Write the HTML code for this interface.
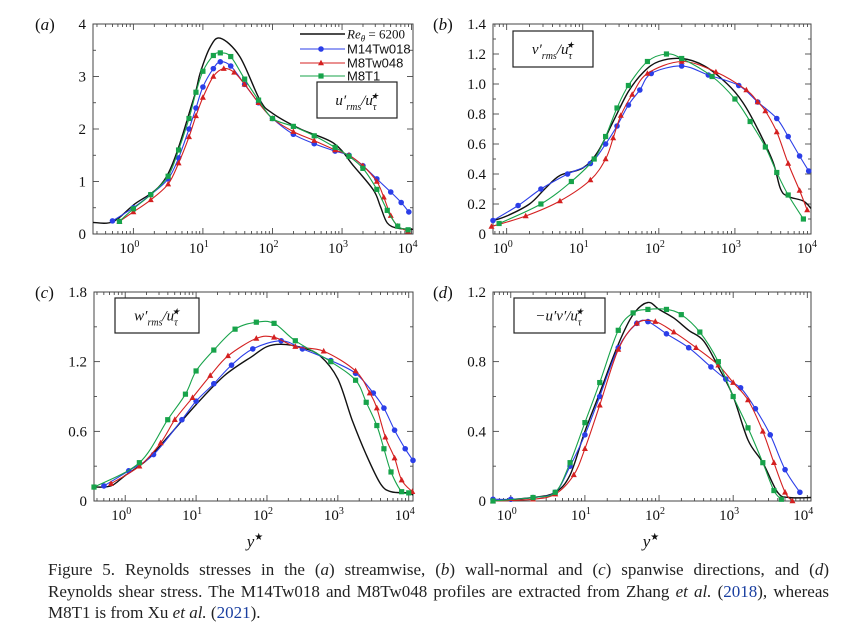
<!DOCTYPE html>
<html><head><meta charset="utf-8"><style>
body{margin:0;background:#fff;width:858px;height:629px;overflow:hidden;font-family:"Liberation Serif",serif}
#cap{position:absolute;left:48px;top:559px;width:781px;font-size:17px;line-height:21.5px;color:#222}
#cap div{text-align:justify;text-align-last:justify;white-space:nowrap}
#cap div.last{text-align-last:left}
</style></head><body>
<svg id="fig" width="858" height="560" style="position:absolute;left:0;top:0" font-family="Liberation Serif, serif"></svg>
<div id="cap"><div>Figure 5. Reynolds stresses in the (<i>a</i>) streamwise, (<i>b</i>) wall-normal and (<i>c</i>) spanwise directions, and (<i>d</i>)</div><div>Reynolds shear stress. The M14Tw018 and M8Tw048 profiles are extracted from Zhang <i>et al.</i> (<span style="color:#1a3fa0">2018</span>), whereas</div><div class="last">M8T1 is from Xu <i>et al.</i> (<span style="color:#1a3fa0">2021</span>).</div></div>
<script>
// Panel (a) streamwise u'rms
const aBlackX=[-0.58,-0.3,0,0.48,0.86,0.96,1.1,1.25,1.53,1.82,2.0,2.4,2.88,3.17,3.45,3.55,3.65,3.8,4.02];
const aBlackY=[0.22,0.23,0.55,1.1,2.55,3.06,3.55,3.73,3.38,2.55,2.3,2.0,1.73,1.29,0.84,0.53,0.21,0.11,0.09];
const aBlueX=[-0.3,0,0.25,0.5,0.65,0.8,0.9,1.0,1.15,1.25,1.4,1.6,1.8,2.0,2.3,2.6,2.9,3.1,3.3,3.5,3.7,3.85,3.96];
const aBlueY=[0.25,0.5,0.75,1.05,1.45,2.0,2.4,2.8,3.15,3.28,3.2,2.85,2.5,2.2,1.9,1.72,1.58,1.5,1.3,1.05,0.8,0.6,0.42];
const aRedX=[-0.2,0,0.25,0.5,0.65,0.8,0.9,1.0,1.15,1.3,1.45,1.6,1.8,2.0,2.3,2.6,2.9,3.1,3.3,3.5,3.6,3.7,3.8,3.95];
const aRedY=[0.24,0.42,0.65,0.95,1.35,1.85,2.25,2.6,3.0,3.15,3.08,2.85,2.5,2.2,1.95,1.78,1.6,1.5,1.3,1.0,0.7,0.35,0.15,0.05];
const aGreenX=[-0.2,0,0.25,0.5,0.65,0.8,0.9,1.0,1.15,1.25,1.4,1.6,1.8,2.0,2.3,2.6,2.9,3.1,3.3,3.5,3.65,3.8,3.95];
const aGreenY=[0.24,0.48,0.75,1.1,1.6,2.2,2.7,3.1,3.4,3.45,3.38,2.95,2.55,2.2,2.05,1.87,1.65,1.48,1.25,0.85,0.45,0.15,0.08];
// Panel (b) wall-normal v'rms
const bBlackX=[-0.18,0,0.3,0.5,0.7,1.0,1.2,1.4,1.6,1.8,2.0,2.3,2.6,2.9,3.1,3.3,3.5,3.6,3.7,3.9,4.0];
const bBlackY=[0.09,0.12,0.2,0.3,0.39,0.44,0.55,0.75,0.95,1.08,1.15,1.17,1.12,1.0,0.88,0.7,0.48,0.3,0.25,0.22,0.17];
const bBlueX=[-0.18,0.15,0.45,0.8,1.1,1.3,1.45,1.6,1.75,1.9,2.3,2.65,3.05,3.3,3.55,3.7,3.85,3.97];
const bBlueY=[0.09,0.19,0.3,0.4,0.47,0.6,0.72,0.86,0.96,1.07,1.12,1.06,0.99,0.88,0.77,0.65,0.52,0.42];
const bRedX=[-0.2,0.25,0.7,1.1,1.3,1.4,1.5,1.65,1.85,2.3,2.75,3.15,3.3,3.4,3.55,3.7,3.85,3.95];
const bRedY=[0.05,0.12,0.22,0.36,0.5,0.64,0.79,0.93,1.07,1.15,1.08,0.96,0.88,0.82,0.68,0.47,0.29,0.16];
const bGreenX=[-0.1,0.45,0.85,1.15,1.3,1.45,1.6,1.85,2.1,2.3,2.7,3.0,3.2,3.4,3.55,3.7,3.9];
const bGreenY=[0.07,0.2,0.35,0.5,0.65,0.84,0.99,1.15,1.2,1.17,1.05,0.9,0.75,0.58,0.41,0.26,0.1];
// Panel (c) spanwise w'rms
const cBlackX=[-0.44,-0.2,0,0.3,0.6,1.0,1.4,1.8,2.0,2.2,2.5,2.75,3.0,3.2,3.4,3.6,3.75,4.0,4.06];
const cBlackY=[0.12,0.13,0.22,0.35,0.55,0.83,1.08,1.25,1.33,1.35,1.32,1.25,1.05,0.7,0.4,0.15,0.08,0.07,0.05];
const cBlueX=[-0.3,0.05,0.4,0.8,1.0,1.25,1.5,1.8,2.2,2.5,2.9,3.25,3.5,3.65,3.8,3.95,4.06];
const cBlueY=[0.13,0.26,0.4,0.7,0.86,1.01,1.17,1.31,1.38,1.31,1.21,1.1,0.93,0.8,0.61,0.45,0.35];
const cRedX=[-0.2,0.2,0.5,0.7,0.95,1.2,1.45,1.85,2.1,2.4,2.8,3.25,3.45,3.55,3.67,3.8,3.9,4.05];
const cRedY=[0.15,0.3,0.5,0.7,0.89,1.08,1.25,1.4,1.41,1.33,1.29,1.12,0.93,0.8,0.55,0.37,0.18,0.08];
const cGreenX=[-0.44,0.2,0.6,0.85,1.0,1.25,1.55,1.85,2.1,2.4,2.9,3.25,3.4,3.55,3.65,3.75,3.9,4.0];
const cGreenY=[0.12,0.33,0.7,0.92,1.12,1.3,1.48,1.54,1.53,1.38,1.2,1.04,0.85,0.65,0.45,0.25,0.08,0.07];
// Panel (d) shear stress -u'v'
const dBlackX=[-0.24,0.3,0.6,0.8,1.0,1.2,1.45,1.65,1.85,2.0,2.2,2.4,2.6,2.8,3.0,3.2,3.4,3.6,3.75,4.05];
const dBlackY=[0,0.02,0.05,0.15,0.4,0.62,0.9,1.07,1.14,1.1,1.05,0.98,0.92,0.77,0.6,0.35,0.22,0.05,0.02,0.02];
const dBlueX=[-0.24,0,0.3,0.6,0.8,1.0,1.2,1.45,1.7,1.85,2.1,2.4,2.7,2.9,3.1,3.3,3.5,3.7,3.9];
const dBlueY=[0.01,0.01,0.02,0.05,0.2,0.38,0.6,0.88,1.02,1.03,0.96,0.88,0.77,0.7,0.65,0.53,0.38,0.18,0.05];
const dRedX=[-0.24,0.3,0.6,0.85,1.0,1.2,1.45,1.7,1.95,2.2,2.5,2.8,3.0,3.2,3.4,3.55,3.7,3.8];
const dRedY=[0,0.01,0.04,0.15,0.3,0.55,0.87,1.02,1.03,0.97,0.88,0.78,0.68,0.58,0.4,0.22,0.05,0.0];
const dGreenX=[-0.24,0.3,0.6,0.8,1.0,1.2,1.45,1.65,1.85,2.1,2.3,2.55,2.8,3.0,3.2,3.4,3.55,3.65];
const dGreenY=[0,0.02,0.05,0.22,0.45,0.68,0.98,1.08,1.1,1.1,1.07,0.97,0.8,0.6,0.42,0.22,0.06,0.01];

const yTicksA=[0,1,2,3,4], yTicksB=[0,0.2,0.4,0.6,0.8,1.0,1.2,1.4], yTicksC=[0,0.6,1.2,1.8], yTicksD=[0,0.4,0.8,1.2];
const xTickExp=[0,1,2,3,4];

const NS='http://www.w3.org/2000/svg';
const svg=document.getElementById('fig');
function mk(tag,attrs,parent){const e=document.createElementNS(NS,tag);for(const k in attrs)e.setAttribute(k,attrs[k]);(parent||svg).appendChild(e);return e;}
const COL={black:'#111',blue:'#2b3ee8',red:'#d42020',green:'#17a34a'};
const panels=[
 {id:'a',L:93,R:413,T:24,B:234,x0:-0.58,x1:4.02,ymax:4,yt:yTicksA,dec:0,lab:[35,30],
  S:[[aBlackX,aBlackY,'black'],[aBlueX,aBlueY,'blue'],[aRedX,aRedY,'red'],[aGreenX,aGreenY,'green']],box:[317,82,80,36],q:"u"},
 {id:'b',L:493,R:811,T:24,B:234,x0:-0.18,x1:4.0,ymax:1.4,yt:yTicksB,dec:1,lab:[433,30],
  S:[[bBlackX,bBlackY,'black'],[bBlueX,bBlueY,'blue'],[bRedX,bRedY,'red'],[bGreenX,bGreenY,'green']],box:[513,31,80,36],q:"v"},
 {id:'c',L:94,R:413,T:292,B:501,x0:-0.44,x1:4.06,ymax:1.8,yt:yTicksC,dec:1,lab:[35,298],
  S:[[cBlackX,cBlackY,'black'],[cBlueX,cBlueY,'blue'],[cRedX,cRedY,'red'],[cGreenX,cGreenY,'green']],box:[115,298,84,35],q:"w"},
 {id:'d',L:493,R:811,T:292,B:501,x0:-0.24,x1:4.05,ymax:1.2,yt:yTicksD,dec:1,lab:[433,298],
  S:[[dBlackX,dBlackY,'black'],[dBlueX,dBlueY,'blue'],[dRedX,dRedY,'red'],[dGreenX,dGreenY,'green']],box:[514,298,91,35],q:"uv"}
];
function curve(pts){
 let d='M'+pts[0][0].toFixed(1)+','+pts[0][1].toFixed(1);
 for(let i=0;i<pts.length-1;i++){
  const p0=pts[i-1]||pts[i],p1=pts[i],p2=pts[i+1],p3=pts[i+2]||p2;
  const c1=[p1[0]+(p2[0]-p0[0])/6,p1[1]+(p2[1]-p0[1])/6],c2=[p2[0]-(p3[0]-p1[0])/6,p2[1]-(p3[1]-p1[1])/6];
  d+='C'+c1.map(v=>v.toFixed(1))+' '+c2.map(v=>v.toFixed(1))+' '+p2.map(v=>v.toFixed(1));
 }
 return d;
}
function marker(g,kind,x,y){
 let m;
 if(kind==='blue'){m=mk('circle',{cx:x,cy:y,r:2.8,fill:COL.blue},g);}
 else if(kind==='red'){m=mk('polygon',{points:`${x},${y-3.3} ${x-3},${y+2.3} ${x+3},${y+2.3}`,fill:COL.red},g);}
 else if(kind==='green'){m=mk('rect',{x:x-2.6,y:y-2.6,width:5.2,height:5.2,fill:COL.green},g);}
 if(m){}
}
panels.forEach(p=>{
 const g=mk('g',{});
 
 
 const X=v=>p.L+(v-p.x0)/(p.x1-p.x0)*(p.R-p.L);
 const Y=v=>p.B-v/p.ymax*(p.B-p.T);
 for(let e=-1;e<=4;e++){for(let k=1;k<10;k++){const lv=e+Math.log10(k);if(lv<p.x0||lv>p.x1)continue;const x=X(lv);const len=k===1?6:3;
  mk('line',{x1:x,y1:p.B,x2:x,y2:p.B-len,stroke:'#333','stroke-width':0.8},g);mk('line',{x1:x,y1:p.T,x2:x,y2:p.T+len,stroke:'#333','stroke-width':0.8},g);}}
 xTickExp.forEach(e=>{const t=mk('text',{x:X(e)-4,y:p.B+19,'font-size':15,'text-anchor':'middle',fill:'#111'},g);t.innerHTML='10<tspan dy="-6" font-size="10">'+e+'</tspan>';});
 const step=p.yt[1]-p.yt[0];
 for(let v=0;v<=p.ymax+1e-9;v+=step/2){const y=Y(v);const len=Math.abs(v/step-Math.round(v/step))<1e-6?6:3;
  mk('line',{x1:p.L,y1:y,x2:p.L+len,y2:y,stroke:'#333','stroke-width':0.8},g);mk('line',{x1:p.R,y1:y,x2:p.R-len,y2:y,stroke:'#333','stroke-width':0.8},g);}
 p.yt.forEach(v=>{const t=mk('text',{x:p.L-7,y:Y(v)+5,'font-size':15,'text-anchor':'end',fill:'#111'},g);t.textContent=v===0?'0':v.toFixed(p.dec);});
 mk('rect',{x:p.L,y:p.T,width:p.R-p.L,height:p.B-p.T,fill:'none',stroke:'#444','stroke-width':1},g);
 const pl=mk('text',{x:p.lab[0],y:p.lab[1],'font-size':17,'font-style':'italic',fill:'#111'},g);
 
 pl.innerHTML='<tspan font-style="normal">(</tspan>'+p.id+'<tspan font-style="normal">)</tspan>';
 p.S.forEach(([xs,ys,c])=>{
  const pts=xs.map((x,i)=>[X(x),Y(ys[i])]);
  const path=mk('path',{d:curve(pts),fill:'none',stroke:COL[c],'stroke-width':c==='black'?1.4:1.1},g);
  
  if(c!=='black')pts.forEach(q=>marker(g,c,q[0],q[1]));
 });
 const b=p.box;
 const br=mk('rect',{x:b[0],y:b[1],width:b[2],height:b[3],fill:'#fff',stroke:'#222','stroke-width':1.2},g);
 
 const qt=mk('text',{x:b[0]+b[2]/2,y:b[1]+b[3]/2+5,'font-size':15,'text-anchor':'middle','font-style':'italic',fill:'#111'},g);
 
 if(p.q==='uv')qt.innerHTML='−u′v′/u<tspan dy="5" font-size="10">τ</tspan><tspan dx="-6" dy="-11" font-size="9">★</tspan>';
 else qt.innerHTML=p.q+'′<tspan dy="5" font-size="10">rms</tspan><tspan dy="-5">/u</tspan><tspan dy="5" font-size="10">τ</tspan><tspan dx="-6" dy="-11" font-size="9">★</tspan>';
});
const legY=[34,49,63,76],legC=['black','blue','red','green'],legT=['Re<tspan dy="3" font-size="9" font-style="italic">θ</tspan><tspan dy="-3" font-style="normal"> = 6200</tspan>','M14Tw018','M8Tw048','M8T1'];
legY.forEach((y,i)=>{
 const lg=mk('g',{});
 
 
 mk('line',{x1:300,y1:y,x2:345,y2:y,stroke:COL[legC[i]],'stroke-width':legC[i]==='black'?1.4:1.1},lg);
 if(i>0){marker(lg,legC[i],321,y);}
 const t=mk('text',{x:347,y:y+4.5,'font-size':13,'font-family':'Liberation Sans, sans-serif',fill:'#111'},lg);
 if(i===0){t.setAttribute('font-family','Liberation Serif, serif');t.setAttribute('font-style','italic');}
 t.innerHTML=legT[i];
});
[[255,547],[651,547]].forEach(([x,y])=>{const t=mk('text',{x:x,y:y,'font-size':17,'font-style':'italic','text-anchor':'middle',fill:'#111'});t.innerHTML='y<tspan dy="-7" font-size="10" font-style="normal">★</tspan>';});
</script>
</body></html>
